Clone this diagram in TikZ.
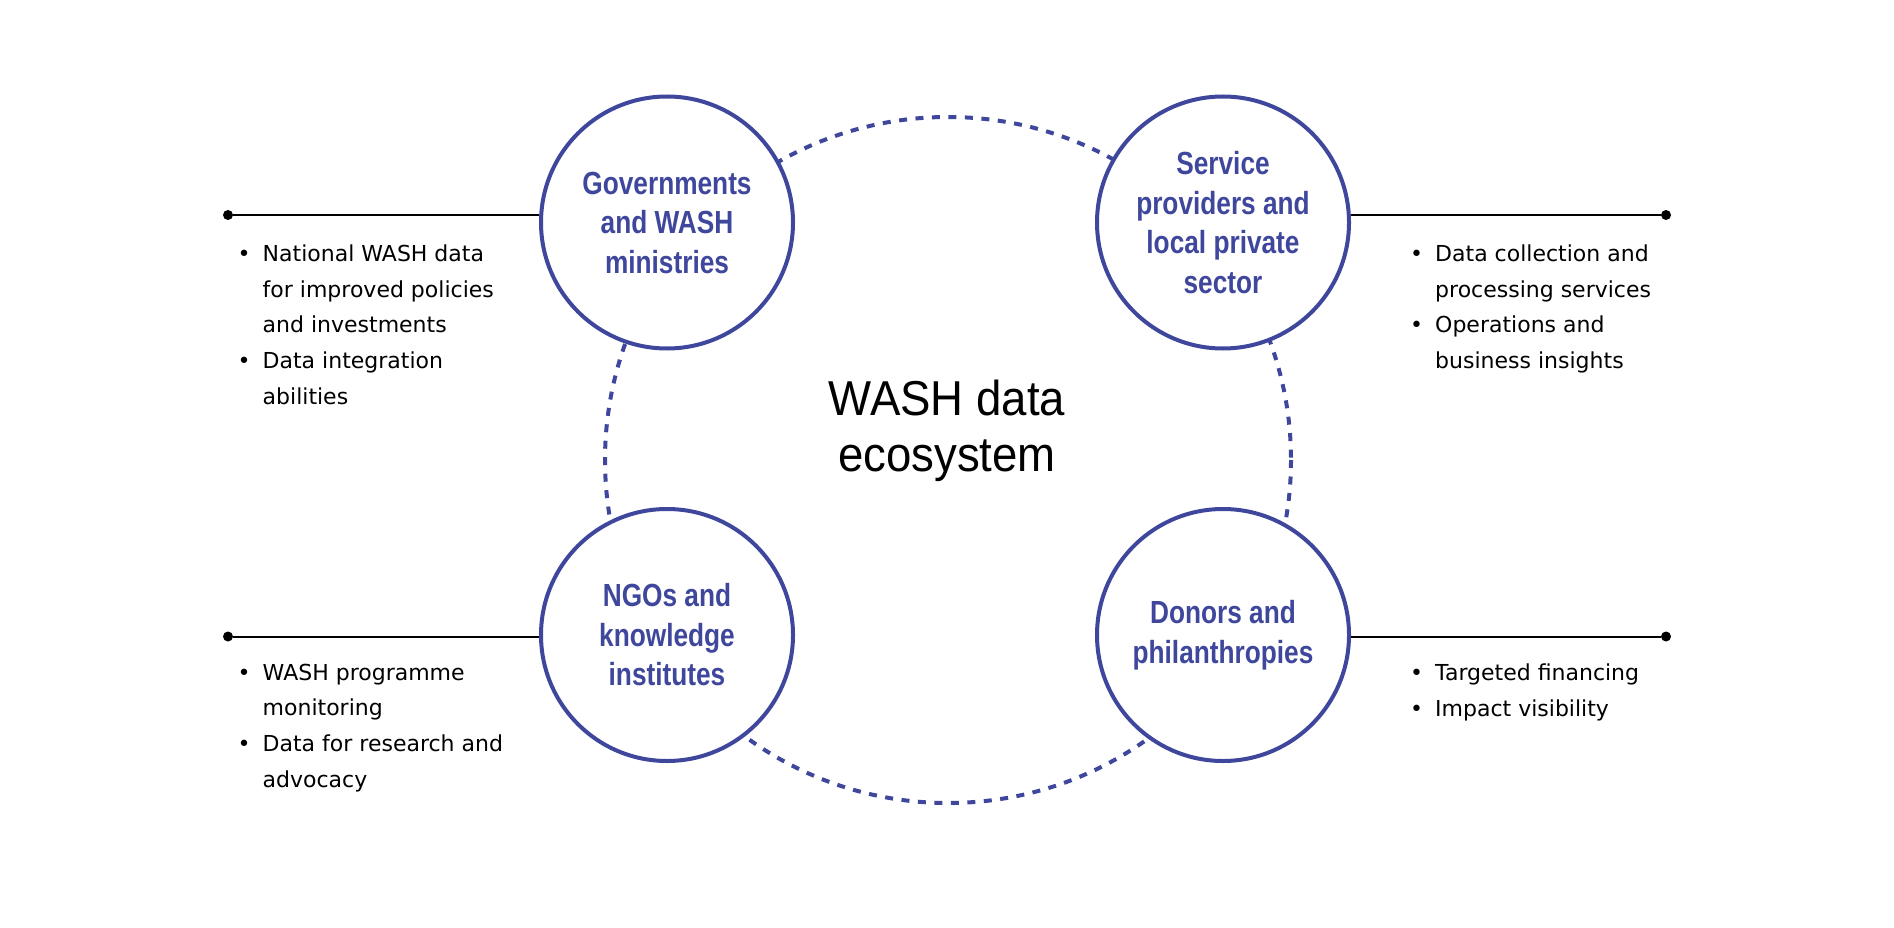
\documentclass[tikz,border=0pt]{standalone}
\usepackage{fontspec}
\setmainfont{DejaVu Sans}
\newfontfamily\titlefont[FakeStretch=0.82]{Liberation Sans}
\newfontfamily\hubfont[FakeStretch=0.93]{Liberation Sans}
\definecolor{washblue}{HTML}{3F479D}
\newcommand{\bitem}{\llap{\textbullet\hspace{12pt}}}
\begin{document}
\begin{tikzpicture}[x=1pt, y=-1pt,
    actor/.style={circle, draw=washblue, line width=4pt, fill=white,
      minimum size=252pt, inner sep=0pt, align=center, text=washblue,
      font=\titlefont\bfseries\fontsize{32}{39.5}\selectfont},
    ring/.style={washblue, line width=4pt, dash pattern=on 8pt off 8.5pt},
    lead/.style={line width=2pt},
    enddot/.style={circle, fill, inner sep=0pt, minimum size=10pt},
    notes/.style={anchor=north west, inner sep=0pt, align=left,
      font=\fontsize{22}{35.8}\selectfont}]
  \fill[white] (0,0) rectangle (1894,928);
  \useasboundingbox (0,0) rectangle (1894,928);
  \def\R{343}
  \coordinate (hub) at (948,460);
  \draw[ring] (hub) circle [radius=\R];
  \node[align=center, font=\hubfont\fontsize{49}{56}\selectfont] (hubtext) at (947,431)
    {WASH data\\ecosystem};
  \node[actor] (gov) at (667,222.5) {Governments\\and WASH\\ministries};
  \node[actor] (srv) at (1223,222.5) {Service\\providers and\\local private\\sector};
  \node[actor] (ngo) at (667,635) {NGOs and\\knowledge\\institutes};
  \node[actor] (don) at (1223,635) {Donors and\\philanthropies};
  \node[enddot] (govend) at (228,215) {};
  \node[enddot] (srvend) at (1666,215) {};
  \node[enddot] (ngoend) at (228,636.5) {};
  \node[enddot] (donend) at (1666,636.5) {};
  \draw[lead] (govend) -- (govend -| gov.west);
  \draw[lead] (srv.east |- srvend) -- (srvend);
  \draw[lead] (ngoend) -- (ngoend -| ngo.west);
  \draw[lead] (don.east |- donend) -- (donend);
  \node[notes] (govnotes) at (262.5,244.3) {\bitem National WASH data\\for improved policies\\and investments\\\bitem Data integration\\abilities};
  \node[notes] (srvnotes) at (1435,244.3) {\bitem Data collection and\\processing services\\\bitem Operations and\\business insights};
  \node[notes] (ngonotes) at (262.5,663.6) {\bitem WASH programme\\monitoring\\\bitem Data for research and\\advocacy};
  \node[notes] (donnotes) at (1435,663.3) {\bitem Targeted financing\\\bitem Impact visibility};
\end{tikzpicture}
\end{document}
